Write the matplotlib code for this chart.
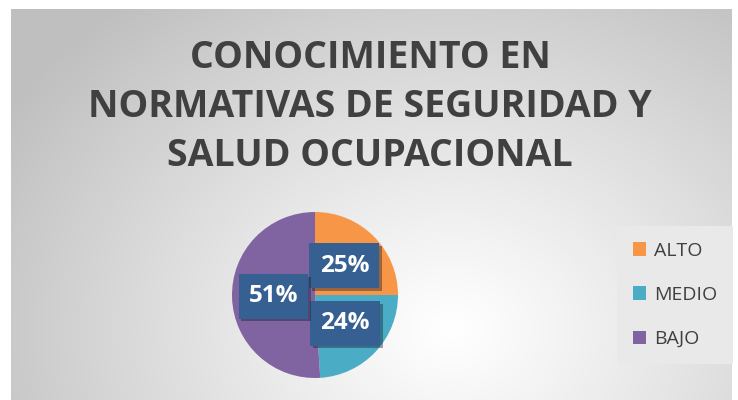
import matplotlib.pyplot as plt
import matplotlib.patheffects as pe
from matplotlib.patches import Patch
import numpy as np

niveles = ["ALTO", "MEDIO", "BAJO"]
porcentajes = [25, 24, 51]
colores = ["#F79646", "#4BACC6", "#8064A2"]
titulo = "CONOCIMIENTO EN\nNORMATIVAS DE SEGURIDAD Y\nSALUD OCUPACIONAL"

plt.rcParams['font.family'] = ['Open Sans', 'DejaVu Sans']

fig = plt.figure(figsize=(7.38, 4.0), dpi=100)

# fondo con degradado radial
bg = fig.add_axes([11/738, 0, 721/738, 391/400])
yy, xx = np.mgrid[0:391, 0:721]
d = np.sqrt(((xx - 440) / 520.0) ** 2 + ((yy - 320) / 420.0) ** 2)
g = 1.0 - 0.25 * np.clip(d, 0, 1) ** 1.1
bg.imshow(np.dstack([g, g, g]), aspect='auto', extent=[0, 1, 0, 1], origin='upper')
bg.set_axis_off()

fig.text(370/738, 1 - 107/400, titulo, ha='center', va='center', fontsize=27,
         fontweight='bold', color='#404040', linespacing=1.39)

ax = fig.add_axes([(315-83)/738, (105-83)/400, 166/738, 166/400])
wedges, texts, autotexts = ax.pie(porcentajes, colors=colores, startangle=90, counterclock=False,
                                  autopct='%.0f%%', pctdistance=0.5,
                                  wedgeprops=dict(linewidth=0))
for t in autotexts:
    t.set_color('white')
    t.set_fontsize(17.5)
    t.set_fontweight('bold')
    t.set_bbox(dict(boxstyle='square,pad=0.42', facecolor='#366092', edgecolor='none'))
    t.get_bbox_patch().set_path_effects([pe.SimplePatchShadow(offset=(2, -2), alpha=0.4), pe.Normal()])
ax.set_xlim(-1, 1)
ax.set_ylim(-1, 1)
ax.set_aspect('equal')

handles = [Patch(facecolor=c, edgecolor='none') for c in colores]
leg = fig.legend(handles, niveles, loc='center', bbox_to_anchor=(675/738, 1 - 295/400),
                 fontsize=14, frameon=True, fancybox=False, handlelength=0.7, handleheight=0.7,
                 handletextpad=0.4, labelspacing=1.35, borderpad=0.8, labelcolor='#404040')
leg.get_frame().set_facecolor('#E9E9E9')
leg.get_frame().set_edgecolor('none')
leg.get_frame().set_alpha(1)

fig.savefig("out.png", dpi=100, facecolor='white')
